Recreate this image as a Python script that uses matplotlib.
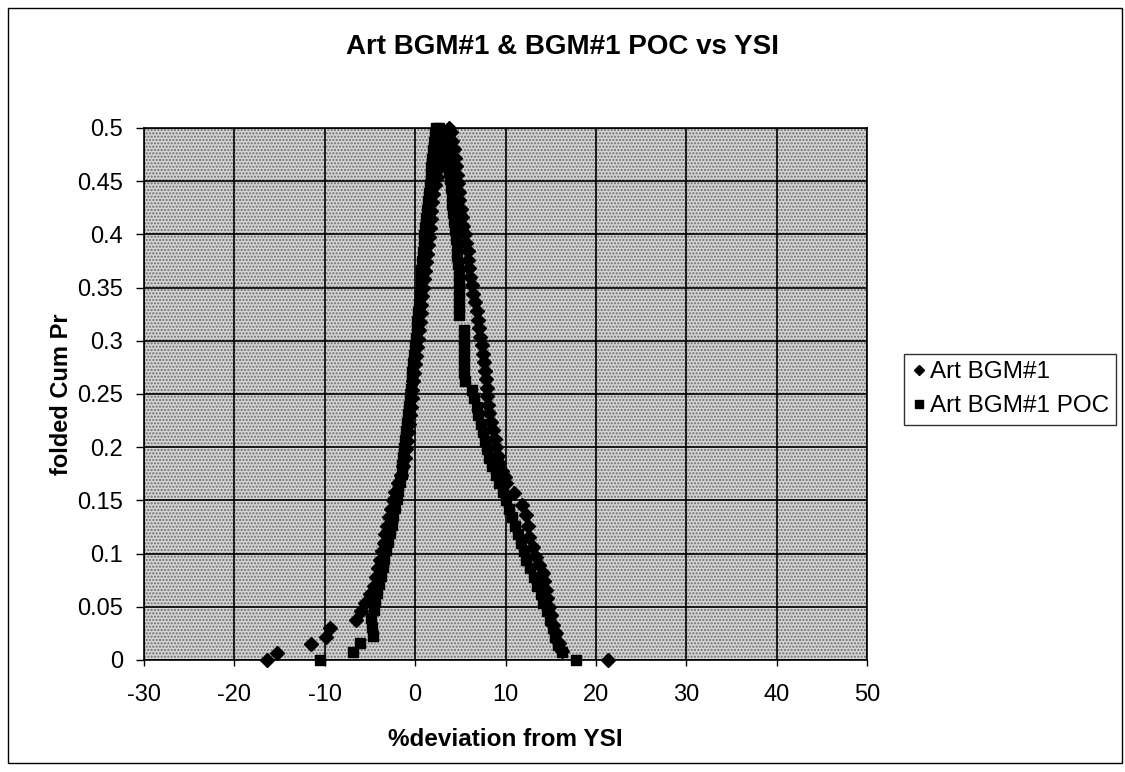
import matplotlib
matplotlib.use("Agg")
import matplotlib.pyplot as plt
from matplotlib.patches import Rectangle

plt.rcParams['font.family'] = ['Liberation Sans', 'DejaVu Sans']
plt.rcParams['axes.unicode_minus'] = False

# Art BGM#1 (diamonds): rising side then falling side
bgm_y = [0.000, 0.007, 0.015, 0.022, 0.030, 0.038, 0.046, 0.054, 0.062, 0.070,
         0.078, 0.086, 0.094, 0.102, 0.110, 0.118, 0.126, 0.134, 0.142, 0.150,
         0.158, 0.166, 0.174, 0.182, 0.190, 0.198, 0.206, 0.214, 0.222, 0.230,
         0.238, 0.246, 0.254, 0.262, 0.270, 0.278, 0.286, 0.294, 0.302, 0.310,
         0.318, 0.326, 0.334, 0.342, 0.350, 0.358, 0.366, 0.374, 0.382, 0.390,
         0.398, 0.406, 0.414, 0.422, 0.430, 0.438, 0.446, 0.454, 0.462, 0.470,
         0.478, 0.486, 0.494, 0.500,
         0.496, 0.488, 0.480, 0.472, 0.464, 0.456, 0.448, 0.440, 0.432, 0.424,
         0.416, 0.408, 0.400, 0.392, 0.384, 0.376, 0.368, 0.360, 0.352, 0.344,
         0.336, 0.328, 0.320, 0.312, 0.304, 0.296, 0.288, 0.280, 0.272, 0.264,
         0.256, 0.248, 0.240, 0.232, 0.224, 0.216, 0.208, 0.200, 0.192, 0.185,
         0.178, 0.172, 0.166, 0.157, 0.146, 0.136, 0.126, 0.116, 0.106, 0.097,
         0.089, 0.082, 0.074, 0.066, 0.058, 0.050, 0.042, 0.033, 0.025, 0.016,
         0.008, 0.000]
bgm_x = [-16.4, -15.3, -11.5, -9.9, -9.4, -6.5, -6.0, -5.5, -5.0, -4.6,
         -4.3, -4.1, -3.9, -3.7, -3.5, -3.3, -3.1, -2.9, -2.7, -2.5,
         -2.2, -1.9, -1.6, -1.3, -1.1, -1.0, -0.9, -0.8, -0.7, -0.6,
         -0.5, -0.4, -0.3, -0.2, -0.1, 0.0, 0.1, 0.2, 0.3, 0.4,
         0.5, 0.6, 0.7, 0.8, 0.9, 1.0, 1.1, 1.2, 1.3, 1.4,
         1.5, 1.6, 1.7, 1.8, 1.9, 2.0, 2.2, 2.4, 2.6, 2.8,
         3.0, 3.2, 3.5, 3.8,
         4.0, 4.1, 4.3, 4.4, 4.5, 4.6, 4.7, 4.8, 4.9, 5.1,
         5.2, 5.3, 5.5, 5.6, 5.8, 5.9, 6.0, 6.1, 6.3, 6.4,
         6.6, 6.8, 6.9, 7.1, 7.2, 7.4, 7.5, 7.6, 7.7, 7.8,
         7.9, 8.0, 8.1, 8.2, 8.4, 8.6, 8.8, 9.0, 9.2, 9.3,
         9.6, 9.9, 10.1, 10.9, 11.8, 12.3, 12.5, 12.6, 13.0, 13.4,
         13.7, 14.1, 14.3, 14.5, 14.6, 14.8, 15.0, 15.3, 15.6, 15.9,
         16.3, 21.3]

# Art BGM#1 POC (squares): rising side then falling side
poc_y = [0.000, 0.0075, 0.016, 0.023, 0.031, 0.039, 0.047, 0.055, 0.063, 0.071,
         0.079, 0.087, 0.095, 0.103, 0.111, 0.119, 0.127, 0.135, 0.143, 0.151,
         0.159, 0.167, 0.175, 0.183, 0.191, 0.199, 0.207, 0.215, 0.223, 0.231,
         0.239, 0.247, 0.255, 0.263, 0.271, 0.279, 0.287, 0.295, 0.303, 0.311,
         0.319, 0.327, 0.335, 0.343, 0.351, 0.359, 0.367, 0.375, 0.383, 0.391,
         0.399, 0.407, 0.415, 0.423, 0.431, 0.439, 0.447, 0.455, 0.463, 0.471,
         0.479, 0.487, 0.495, 0.500,
         0.500, 0.492, 0.484, 0.476, 0.468, 0.460, 0.452, 0.444, 0.436, 0.428,
         0.420, 0.412, 0.404, 0.396, 0.388, 0.380, 0.372, 0.364, 0.356, 0.348,
         0.340, 0.332, 0.324, 0.310, 0.302, 0.294, 0.286, 0.278, 0.270, 0.262,
         0.254, 0.246, 0.238, 0.230, 0.222, 0.214, 0.206, 0.198, 0.190, 0.182,
         0.174, 0.166, 0.158, 0.150, 0.142, 0.134, 0.126, 0.118, 0.110, 0.102,
         0.094, 0.086, 0.078, 0.070, 0.062, 0.054, 0.046, 0.038, 0.030, 0.022,
         0.014, 0.0075, 0.000]
poc_x = [-10.5, -6.9, -6.1, -4.7, -4.8, -4.9, -4.6, -4.4, -4.2, -4.0,
         -3.8, -3.6, -3.4, -3.2, -3.0, -2.8, -2.6, -2.4, -2.2, -2.0,
         -1.9, -1.7, -1.5, -1.4, -1.3, -1.2, -1.1, -1.0, -0.9, -0.8,
         -0.7, -0.6, -0.5, -0.4, -0.3, -0.2, -0.1, 0.0, 0.1, 0.2,
         0.2, 0.3, 0.4, 0.5, 0.6, 0.6, 0.7, 0.8, 0.9, 1.0,
         1.0, 1.1, 1.2, 1.3, 1.4, 1.5, 1.6, 1.7, 1.8, 1.9,
         2.0, 2.1, 2.2, 2.3,
         2.6, 3.0, 3.2, 3.4, 3.6, 3.8, 3.9, 4.0, 4.1, 4.1,
         4.2, 4.3, 4.4, 4.5, 4.6, 4.6, 4.7, 4.8, 4.9, 4.9,
         4.9, 4.9, 4.9, 5.4, 5.4, 5.4, 5.4, 5.4, 5.4, 5.5,
         6.3, 6.5, 6.8, 7.0, 7.3, 7.5, 7.7, 7.9, 8.2, 8.5,
         8.9, 9.3, 9.7, 10.1, 10.4, 10.7, 11.0, 11.4, 11.7, 12.0,
         12.3, 12.7, 13.1, 13.5, 13.9, 14.2, 14.6, 14.9, 15.2, 15.5,
         15.8, 16.3, 17.8]

x_ticks = [-30, -20, -10, 0, 10, 20, 30, 40, 50]
y_ticks = [0, 0.05, 0.1, 0.15, 0.2, 0.25, 0.3, 0.35, 0.4, 0.45, 0.5]
y_tick_labels = ['0', '0.05', '0.1', '0.15', '0.2', '0.25', '0.3', '0.35', '0.4', '0.45', '0.5']

fig = plt.figure(figsize=(11.25, 7.72), dpi=100)
fig.patch.set_facecolor('white')
ax = fig.add_axes([0.128, 0.1451, 0.6427, 0.6891])

# stippled gray plot area like the scanned Excel chart
ax.set_facecolor('#d4d4d4')
ax.add_patch(Rectangle((0, 0), 1, 1, transform=ax.transAxes, facecolor='none',
                       edgecolor='#6a6a6a', hatch='.....', linewidth=0, zorder=0))

ax.set_xlim(-30, 50)
ax.set_ylim(0, 0.5)
ax.set_xticks(x_ticks)
ax.set_yticks(y_ticks)
ax.set_yticklabels(y_tick_labels)
ax.grid(True, color='black', linewidth=1.2)
ax.set_axisbelow(True)
for s in ax.spines.values():
    s.set_color('black')
    s.set_linewidth(1.2)
ax.tick_params(axis='both', labelsize=17, direction='out', width=1)
ax.tick_params(axis='y', length=6, pad=9)
ax.tick_params(axis='x', length=4, pad=13)

ax.plot(bgm_x, bgm_y, linestyle='none', marker='D', markersize=7,
        color='black', label='Art BGM#1', clip_on=False, zorder=3)
ax.plot(poc_x, poc_y, linestyle='none', marker='s', markersize=6.5,
        color='black', label='Art BGM#1 POC', clip_on=False, zorder=3)

ax.set_xlabel('%deviation from YSI', fontsize=17.5, fontweight='bold', labelpad=16)
ax.set_ylabel('folded Cum Pr', fontsize=17, fontweight='bold', labelpad=3)
fig.text(0.5, 1 - 47 / 772, 'Art BGM#1 & BGM#1 POC vs YSI', ha='center', va='center',
         fontsize=20, fontweight='bold')

leg = fig.legend(loc='upper left', bbox_to_anchor=(904 / 1125, 1 - 354 / 772), fontsize=17.5,
                 frameon=True, fancybox=False, handletextpad=0.15, handlelength=0.6,
                 borderpad=0.3, borderaxespad=0, labelspacing=0.5, markerscale=0.8)
leg.get_frame().set_edgecolor('black')
leg.get_frame().set_linewidth(1.0)

# chart area border
fig.patches.append(Rectangle((8 / 1125, 9 / 772), 1114 / 1125, 755 / 772,
                             transform=fig.transFigure, fill=False,
                             edgecolor='black', linewidth=1.0))

fig.savefig('out.png', dpi=100)
